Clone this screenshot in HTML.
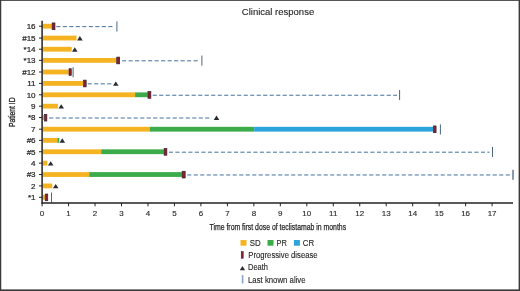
<!DOCTYPE html>
<html><head><meta charset="utf-8"><title>Clinical response</title>
<style>
html,body{margin:0;padding:0;background:#fff;}
body{width:520px;height:291px;overflow:hidden;position:relative;font-family:"Liberation Sans",sans-serif;}
svg text{font-family:"Liberation Sans",sans-serif;}
</style></head><body>
<svg width="520" height="291" viewBox="0 0 520 291" style="position:absolute;left:0;top:0;will-change:transform">
<rect x="0" y="0" width="520" height="291" fill="#fff"/>
<line x1="56.3" y1="26.65" x2="113.2" y2="26.65" stroke="#44709e" stroke-width="1.0" stroke-dasharray="4.1 2.4"/>
<rect x="42.6" y="23.80" width="9.3" height="4.8" fill="#f5b321"/>
<rect x="52.1" y="22.90" width="2.9" height="6.8" fill="#842132" stroke="#2e1e2a" stroke-width="0.6"/>
<line x1="116.9" y1="21.40" x2="116.9" y2="31.50" stroke="#4a6683" stroke-width="1.0"/>
<rect x="42.6" y="35.64" width="33.9" height="4.8" fill="#f5b321"/>
<path d="M77.1 40.44 L82.7 40.44 L79.9 36.04 Z" fill="#2c2a35"/>
<rect x="42.6" y="46.83" width="29.1" height="4.8" fill="#f5b321"/>
<path d="M72.0 51.63 L77.6 51.63 L74.8 47.23 Z" fill="#2c2a35"/>
<line x1="122.1" y1="60.82" x2="199.1" y2="60.82" stroke="#44709e" stroke-width="1.0" stroke-dasharray="4.1 2.4"/>
<rect x="42.6" y="57.97" width="73.9" height="4.8" fill="#f5b321"/>
<rect x="116.7" y="57.07" width="3.0" height="6.8" fill="#842132" stroke="#2e1e2a" stroke-width="0.6"/>
<line x1="201.9" y1="55.57" x2="201.9" y2="65.67" stroke="#4a6683" stroke-width="1.0"/>
<rect x="42.6" y="69.61" width="26.2" height="4.8" fill="#f5b321"/>
<rect x="69.0" y="68.71" width="2.3" height="6.8" fill="#842132" stroke="#2e1e2a" stroke-width="0.6"/>
<line x1="73.1" y1="67.21" x2="73.1" y2="77.31" stroke="#4a6683" stroke-width="1.0"/>
<line x1="87.7" y1="83.85" x2="111.5" y2="83.85" stroke="#44709e" stroke-width="1.0" stroke-dasharray="4.1 2.4"/>
<rect x="42.6" y="81.00" width="40.7" height="4.8" fill="#f5b321"/>
<rect x="83.5" y="80.10" width="2.7" height="6.8" fill="#842132" stroke="#2e1e2a" stroke-width="0.6"/>
<path d="M113.0 85.80 L118.6 85.80 L115.8 81.40 Z" fill="#2c2a35"/>
<line x1="152.7" y1="95.24" x2="397.0" y2="95.24" stroke="#44709e" stroke-width="1.0" stroke-dasharray="4.1 2.4"/>
<rect x="42.6" y="92.39" width="92.5" height="4.8" fill="#f5b321"/>
<rect x="135.1" y="92.39" width="12.6" height="4.8" fill="#3cab4a"/>
<rect x="147.9" y="91.49" width="3.0" height="6.8" fill="#842132" stroke="#2e1e2a" stroke-width="0.6"/>
<line x1="399.6" y1="89.99" x2="399.6" y2="100.09" stroke="#4a6683" stroke-width="1.0"/>
<rect x="42.6" y="103.78" width="15.3" height="4.8" fill="#f5b321"/>
<path d="M58.4 108.58 L64.0 108.58 L61.2 104.18 Z" fill="#2c2a35"/>
<line x1="49.2" y1="118.02" x2="211.8" y2="118.02" stroke="#44709e" stroke-width="1.0" stroke-dasharray="4.1 2.4"/>
<rect x="42.6" y="115.17" width="1.6" height="4.8" fill="#f5b321"/>
<rect x="44.4" y="114.27" width="2.5" height="6.8" fill="#842132" stroke="#2e1e2a" stroke-width="0.6"/>
<path d="M213.7 119.97 L219.3 119.97 L216.5 115.57 Z" fill="#2c2a35"/>
<rect x="42.6" y="126.81" width="107.0" height="4.8" fill="#f5b321"/>
<rect x="149.6" y="126.81" width="104.6" height="4.8" fill="#3cab4a"/>
<rect x="254.2" y="126.81" width="179.0" height="4.8" fill="#2ba4dc"/>
<rect x="433.4" y="125.91" width="2.7" height="6.8" fill="#842132" stroke="#2e1e2a" stroke-width="0.6"/>
<line x1="440.4" y1="124.41" x2="440.4" y2="134.51" stroke="#4a6683" stroke-width="1.0"/>
<rect x="42.6" y="137.95" width="14.7" height="4.8" fill="#f5b321"/>
<rect x="57.3" y="137.95" width="2.0" height="4.8" fill="#3cab4a"/>
<path d="M59.5 142.75 L65.1 142.75 L62.3 138.35 Z" fill="#2c2a35"/>
<line x1="168.9" y1="152.19" x2="489.5" y2="152.19" stroke="#44709e" stroke-width="1.0" stroke-dasharray="4.1 2.4"/>
<rect x="42.6" y="149.34" width="58.6" height="4.8" fill="#f5b321"/>
<rect x="101.2" y="149.34" width="62.7" height="4.8" fill="#3cab4a"/>
<rect x="164.1" y="148.44" width="2.8" height="6.8" fill="#842132" stroke="#2e1e2a" stroke-width="0.6"/>
<line x1="492.5" y1="146.94" x2="492.5" y2="157.04" stroke="#4a6683" stroke-width="1.0"/>
<rect x="42.6" y="160.73" width="4.7" height="4.8" fill="#f5b321"/>
<path d="M47.9 165.53 L53.5 165.53 L50.7 161.13 Z" fill="#2c2a35"/>
<line x1="187.2" y1="174.97" x2="510.5" y2="174.97" stroke="#44709e" stroke-width="1.0" stroke-dasharray="4.1 2.4"/>
<rect x="42.6" y="172.12" width="46.6" height="4.8" fill="#f5b321"/>
<rect x="89.2" y="172.12" width="92.7" height="4.8" fill="#3cab4a"/>
<rect x="182.1" y="171.22" width="3.1" height="6.8" fill="#842132" stroke="#2e1e2a" stroke-width="0.6"/>
<line x1="513.0" y1="169.72" x2="513.0" y2="179.82" stroke="#4a6683" stroke-width="1.3"/>
<rect x="42.6" y="183.51" width="9.7" height="4.8" fill="#f5b321"/>
<path d="M52.9 188.31 L58.5 188.31 L55.7 183.91 Z" fill="#2c2a35"/>
<rect x="42.6" y="194.90" width="2.4" height="4.8" fill="#f5b321"/>
<rect x="45.2" y="194.00" width="2.6" height="6.8" fill="#842132" stroke="#2e1e2a" stroke-width="0.6"/>
<line x1="51.5" y1="192.50" x2="51.5" y2="202.60" stroke="#4a6683" stroke-width="1.0"/>
<line x1="42.1" y1="20.7" x2="42.1" y2="203.7" stroke="#222" stroke-width="1.5"/>
<line x1="41.5" y1="203.0" x2="513.0" y2="203.0" stroke="#222" stroke-width="1.5"/>
<line x1="39.0" y1="26.20" x2="42.1" y2="26.20" stroke="#222" stroke-width="1"/>
<text x="35.6" y="29.05" text-anchor="end" font-size="8.05" fill="#262626" stroke="#262626" stroke-width="0.22">16</text>
<line x1="39.0" y1="38.04" x2="42.1" y2="38.04" stroke="#222" stroke-width="1"/>
<text x="35.6" y="40.89" text-anchor="end" font-size="8.05" fill="#262626" stroke="#262626" stroke-width="0.22">#15</text>
<line x1="39.0" y1="49.23" x2="42.1" y2="49.23" stroke="#222" stroke-width="1"/>
<text x="35.6" y="52.08" text-anchor="end" font-size="8.05" fill="#262626" stroke="#262626" stroke-width="0.22">*14</text>
<line x1="39.0" y1="60.37" x2="42.1" y2="60.37" stroke="#222" stroke-width="1"/>
<text x="35.6" y="63.22" text-anchor="end" font-size="8.05" fill="#262626" stroke="#262626" stroke-width="0.22">*13</text>
<line x1="39.0" y1="72.01" x2="42.1" y2="72.01" stroke="#222" stroke-width="1"/>
<text x="35.6" y="74.86" text-anchor="end" font-size="8.05" fill="#262626" stroke="#262626" stroke-width="0.22">#12</text>
<line x1="39.0" y1="83.40" x2="42.1" y2="83.40" stroke="#222" stroke-width="1"/>
<text x="35.6" y="86.25" text-anchor="end" font-size="8.05" fill="#262626" stroke="#262626" stroke-width="0.22">11</text>
<line x1="39.0" y1="94.79" x2="42.1" y2="94.79" stroke="#222" stroke-width="1"/>
<text x="35.6" y="97.64" text-anchor="end" font-size="8.05" fill="#262626" stroke="#262626" stroke-width="0.22">10</text>
<line x1="39.0" y1="106.18" x2="42.1" y2="106.18" stroke="#222" stroke-width="1"/>
<text x="35.6" y="109.03" text-anchor="end" font-size="8.05" fill="#262626" stroke="#262626" stroke-width="0.22">9</text>
<line x1="39.0" y1="117.57" x2="42.1" y2="117.57" stroke="#222" stroke-width="1"/>
<text x="35.6" y="120.42" text-anchor="end" font-size="8.05" fill="#262626" stroke="#262626" stroke-width="0.22">*8</text>
<line x1="39.0" y1="129.21" x2="42.1" y2="129.21" stroke="#222" stroke-width="1"/>
<text x="35.6" y="132.06" text-anchor="end" font-size="8.05" fill="#262626" stroke="#262626" stroke-width="0.22">7</text>
<line x1="39.0" y1="140.35" x2="42.1" y2="140.35" stroke="#222" stroke-width="1"/>
<text x="35.6" y="143.20" text-anchor="end" font-size="8.05" fill="#262626" stroke="#262626" stroke-width="0.22">#6</text>
<line x1="39.0" y1="151.74" x2="42.1" y2="151.74" stroke="#222" stroke-width="1"/>
<text x="35.6" y="154.59" text-anchor="end" font-size="8.05" fill="#262626" stroke="#262626" stroke-width="0.22">#5</text>
<line x1="39.0" y1="163.13" x2="42.1" y2="163.13" stroke="#222" stroke-width="1"/>
<text x="35.6" y="165.98" text-anchor="end" font-size="8.05" fill="#262626" stroke="#262626" stroke-width="0.22">4</text>
<line x1="39.0" y1="174.52" x2="42.1" y2="174.52" stroke="#222" stroke-width="1"/>
<text x="35.6" y="177.37" text-anchor="end" font-size="8.05" fill="#262626" stroke="#262626" stroke-width="0.22">#3</text>
<line x1="39.0" y1="185.91" x2="42.1" y2="185.91" stroke="#222" stroke-width="1"/>
<text x="35.6" y="188.76" text-anchor="end" font-size="8.05" fill="#262626" stroke="#262626" stroke-width="0.22">2</text>
<line x1="39.0" y1="197.30" x2="42.1" y2="197.30" stroke="#222" stroke-width="1"/>
<text x="35.6" y="200.15" text-anchor="end" font-size="8.05" fill="#262626" stroke="#262626" stroke-width="0.22">*1</text>
<line x1="42.10" y1="203.0" x2="42.10" y2="206.3" stroke="#222" stroke-width="1"/>
<text x="42.10" y="216.35" text-anchor="middle" font-size="8.0" fill="#2c2c2c" stroke="#2c2c2c" stroke-width="0.15">0</text>
<line x1="68.57" y1="203.0" x2="68.57" y2="206.3" stroke="#222" stroke-width="1"/>
<text x="68.57" y="216.35" text-anchor="middle" font-size="8.0" fill="#2c2c2c" stroke="#2c2c2c" stroke-width="0.15">1</text>
<line x1="95.04" y1="203.0" x2="95.04" y2="206.3" stroke="#222" stroke-width="1"/>
<text x="95.04" y="216.35" text-anchor="middle" font-size="8.0" fill="#2c2c2c" stroke="#2c2c2c" stroke-width="0.15">2</text>
<line x1="121.51" y1="203.0" x2="121.51" y2="206.3" stroke="#222" stroke-width="1"/>
<text x="121.51" y="216.35" text-anchor="middle" font-size="8.0" fill="#2c2c2c" stroke="#2c2c2c" stroke-width="0.15">3</text>
<line x1="147.98" y1="203.0" x2="147.98" y2="206.3" stroke="#222" stroke-width="1"/>
<text x="147.98" y="216.35" text-anchor="middle" font-size="8.0" fill="#2c2c2c" stroke="#2c2c2c" stroke-width="0.15">4</text>
<line x1="174.45" y1="203.0" x2="174.45" y2="206.3" stroke="#222" stroke-width="1"/>
<text x="174.45" y="216.35" text-anchor="middle" font-size="8.0" fill="#2c2c2c" stroke="#2c2c2c" stroke-width="0.15">5</text>
<line x1="200.92" y1="203.0" x2="200.92" y2="206.3" stroke="#222" stroke-width="1"/>
<text x="200.92" y="216.35" text-anchor="middle" font-size="8.0" fill="#2c2c2c" stroke="#2c2c2c" stroke-width="0.15">6</text>
<line x1="227.39" y1="203.0" x2="227.39" y2="206.3" stroke="#222" stroke-width="1"/>
<text x="227.39" y="216.35" text-anchor="middle" font-size="8.0" fill="#2c2c2c" stroke="#2c2c2c" stroke-width="0.15">7</text>
<line x1="253.86" y1="203.0" x2="253.86" y2="206.3" stroke="#222" stroke-width="1"/>
<text x="253.86" y="216.35" text-anchor="middle" font-size="8.0" fill="#2c2c2c" stroke="#2c2c2c" stroke-width="0.15">8</text>
<line x1="280.33" y1="203.0" x2="280.33" y2="206.3" stroke="#222" stroke-width="1"/>
<text x="280.33" y="216.35" text-anchor="middle" font-size="8.0" fill="#2c2c2c" stroke="#2c2c2c" stroke-width="0.15">9</text>
<line x1="306.80" y1="203.0" x2="306.80" y2="206.3" stroke="#222" stroke-width="1"/>
<text x="306.80" y="216.35" text-anchor="middle" font-size="8.0" fill="#2c2c2c" stroke="#2c2c2c" stroke-width="0.15">10</text>
<line x1="333.27" y1="203.0" x2="333.27" y2="206.3" stroke="#222" stroke-width="1"/>
<text x="333.27" y="216.35" text-anchor="middle" font-size="8.0" fill="#2c2c2c" stroke="#2c2c2c" stroke-width="0.15">11</text>
<line x1="359.74" y1="203.0" x2="359.74" y2="206.3" stroke="#222" stroke-width="1"/>
<text x="359.74" y="216.35" text-anchor="middle" font-size="8.0" fill="#2c2c2c" stroke="#2c2c2c" stroke-width="0.15">12</text>
<line x1="386.21" y1="203.0" x2="386.21" y2="206.3" stroke="#222" stroke-width="1"/>
<text x="386.21" y="216.35" text-anchor="middle" font-size="8.0" fill="#2c2c2c" stroke="#2c2c2c" stroke-width="0.15">13</text>
<line x1="412.68" y1="203.0" x2="412.68" y2="206.3" stroke="#222" stroke-width="1"/>
<text x="412.68" y="216.35" text-anchor="middle" font-size="8.0" fill="#2c2c2c" stroke="#2c2c2c" stroke-width="0.15">14</text>
<line x1="439.15" y1="203.0" x2="439.15" y2="206.3" stroke="#222" stroke-width="1"/>
<text x="439.15" y="216.35" text-anchor="middle" font-size="8.0" fill="#2c2c2c" stroke="#2c2c2c" stroke-width="0.15">15</text>
<line x1="465.62" y1="203.0" x2="465.62" y2="206.3" stroke="#222" stroke-width="1"/>
<text x="465.62" y="216.35" text-anchor="middle" font-size="8.0" fill="#2c2c2c" stroke="#2c2c2c" stroke-width="0.15">16</text>
<line x1="492.09" y1="203.0" x2="492.09" y2="206.3" stroke="#222" stroke-width="1"/>
<text x="492.09" y="216.35" text-anchor="middle" font-size="8.0" fill="#2c2c2c" stroke="#2c2c2c" stroke-width="0.15">17</text>
<text x="278" y="15.0" text-anchor="middle" font-size="9.5" fill="#262626" stroke="#262626" stroke-width="0.12">Clinical response</text>
<text x="209.5" y="229.85" textLength="136.6" lengthAdjust="spacingAndGlyphs" font-size="9.3" fill="#262626" stroke="#262626" stroke-width="0.25">Time from first dose of teclistamab in months</text>
<text transform="translate(15.1,127.1) rotate(-90)" textLength="29.7" lengthAdjust="spacingAndGlyphs" font-size="9.2" fill="#262626" stroke="#262626" stroke-width="0.3">Patient ID</text>
<rect x="240.5" y="240.0" width="6.0" height="5.7" fill="#f5b321"/>
<text x="249.7" y="245.9" textLength="10.9" lengthAdjust="spacingAndGlyphs" font-size="8.5" fill="#262626" stroke="#262626" stroke-width="0.12">SD</text>
<rect x="267.5" y="240.0" width="6.0" height="5.7" fill="#3cab4a"/>
<text x="276.5" y="245.9" textLength="10.4" lengthAdjust="spacingAndGlyphs" font-size="8.5" fill="#262626" stroke="#262626" stroke-width="0.12">PR</text>
<rect x="293.9" y="240.0" width="6.0" height="5.7" fill="#2ba4dc"/>
<text x="302.8" y="245.9" textLength="11.4" lengthAdjust="spacingAndGlyphs" font-size="8.5" fill="#262626" stroke="#262626" stroke-width="0.12">CR</text>
<rect x="241.2" y="251.6" width="2.0" height="6.7" fill="#842132" stroke="#2e1e2a" stroke-width="0.5"/>
<text x="248.3" y="257.9" textLength="69.3" lengthAdjust="spacingAndGlyphs" font-size="8.5" fill="#262626" stroke="#262626" stroke-width="0.12">Progressive disease</text>
<path d="M239.8 270.3 L245.1 270.3 L242.45 266.1 Z" fill="#2c2a35"/>
<text x="248.0" y="270.0" textLength="19.9" lengthAdjust="spacingAndGlyphs" font-size="8.5" fill="#262626" stroke="#262626" stroke-width="0.12">Death</text>
<line x1="242.6" y1="275.2" x2="242.6" y2="283.5" stroke="#86a5c6" stroke-width="1.6"/>
<text x="248.0" y="282.5" textLength="57.6" lengthAdjust="spacingAndGlyphs" font-size="8.5" fill="#262626" stroke="#262626" stroke-width="0.12">Last known alive</text>
<rect x="0" y="0" width="520" height="1" fill="#555"/>
<rect x="0" y="0" width="1.25" height="291" fill="#3a3a3a"/>
<rect x="518.6" y="0" width="1.4" height="291" fill="#3a3a3a"/>
<rect x="0" y="289.4" width="520" height="1.6" fill="#3a3a3a"/>
</svg>
</body></html>
